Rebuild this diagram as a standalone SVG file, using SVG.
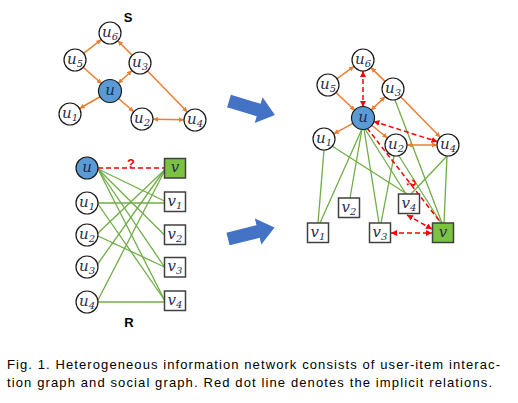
<svg xmlns="http://www.w3.org/2000/svg" width="518" height="403" viewBox="0 0 518 403">
<style>
.n{fill:#fff;stroke:#1a1a1a;stroke-width:1.2}
.nb{fill:#5b9bd5;stroke:#1a1a1a;stroke-width:1.2}
.bx{fill:#fff;stroke:#404040;stroke-width:1.5}
.bg{fill:#7cc242;stroke:#404040;stroke-width:1.5}
.lb{font-family:"DejaVu Serif","Liberation Serif",serif;font-style:italic;font-size:15px;fill:#1f2d4d;text-anchor:middle}
.sb{font-size:10px}
.o{stroke:#ed7d31;stroke-width:1.5;fill:none}
.g{stroke:#70ad47;stroke-width:1.3;fill:none}
.r{stroke:#ff0000;stroke-width:1.5;stroke-dasharray:5 3;fill:none}
.t{font-family:"Liberation Sans",Arial,sans-serif;font-weight:bold;font-size:13px;fill:#000;text-anchor:middle}
.q{font-family:"Liberation Sans",Arial,sans-serif;font-weight:bold;font-size:13px;fill:#ff0000;text-anchor:middle}
.cap{font-family:"Liberation Sans",Arial,sans-serif;font-size:13px;fill:#000}
.ba{fill:#4472c4}
</style>
<defs>
<marker id="ao" viewBox="0 0 10 10" refX="10" refY="5" markerWidth="5" markerHeight="5" orient="auto-start-reverse" markerUnits="userSpaceOnUse"><path d="M0,0 L10,5 L0,10 z" fill="#ed7d31"/></marker>
<marker id="ar" viewBox="0 0 10 10" refX="10" refY="5" markerWidth="6" markerHeight="6" orient="auto-start-reverse" markerUnits="userSpaceOnUse"><path d="M0,0 L10,5 L0,10 z" fill="#ff0000"/></marker>
</defs>

<g id="connectors">
<line class="o" x1="83.7" y1="53.3" x2="101.3" y2="39.7" marker-end="url(#ao)"/>
<line class="o" x1="132.2" y1="55.2" x2="117.8" y2="40.8" marker-end="url(#ao)"/>
<line class="o" x1="83.2" y1="67.3" x2="101.8" y2="83.7" marker-end="url(#ao)"/>
<line class="o" x1="118" y1="83.5" x2="132" y2="70.5" marker-start="url(#ao)" marker-end="url(#ao)"/>
<line class="o" x1="100.5" y1="96.5" x2="79.5" y2="108.5" marker-end="url(#ao)"/>
<line class="o" x1="118.3" y1="98.2" x2="133.7" y2="111.8" marker-end="url(#ao)"/>
<line class="o" x1="153" y1="119.2" x2="184" y2="119.8" marker-start="url(#ao)" marker-end="url(#ao)"/>
<line class="o" x1="147.6" y1="70.9" x2="187.4" y2="112.1" marker-end="url(#ao)"/>
<line class="g" x1="98" y1="169" x2="164.5" y2="201"/>
<line class="g" x1="98" y1="169" x2="164.5" y2="235"/>
<line class="g" x1="98" y1="169" x2="164.5" y2="267"/>
<line class="g" x1="98" y1="169" x2="164.5" y2="300"/>
<line class="g" x1="98" y1="203" x2="164.5" y2="203"/>
<line class="g" x1="98" y1="204" x2="164.5" y2="300"/>
<line class="g" x1="98" y1="233" x2="164.5" y2="170"/>
<line class="g" x1="98" y1="236" x2="164.5" y2="267"/>
<line class="g" x1="97" y1="265" x2="164.5" y2="170"/>
<line class="g" x1="98" y1="300" x2="164.5" y2="171"/>
<line class="g" x1="98" y1="302" x2="164.5" y2="302"/>
<line class="r" x1="98" y1="168" x2="164.5" y2="168"/>
<line class="g" x1="324" y1="150" x2="318" y2="223"/>
<line class="g" x1="332" y1="146" x2="407" y2="194"/>
<line class="g" x1="362" y1="129" x2="320" y2="223"/>
<line class="g" x1="362" y1="129" x2="350" y2="198"/>
<line class="g" x1="364" y1="129" x2="379" y2="223"/>
<line class="g" x1="365" y1="129" x2="406" y2="194"/>
<line class="g" x1="394" y1="156" x2="381" y2="223"/>
<line class="g" x1="399" y1="156" x2="441" y2="223"/>
<line class="g" x1="395" y1="100" x2="442" y2="223"/>
<line class="g" x1="447" y1="156" x2="411" y2="194"/>
<line class="g" x1="447" y1="156" x2="444" y2="223"/>
<line class="o" x1="337" y1="78.6" x2="354" y2="66.4" marker-end="url(#ao)"/>
<line class="o" x1="385.1" y1="81.4" x2="370.9" y2="67.6" marker-end="url(#ao)"/>
<line class="o" x1="336" y1="92.5" x2="355" y2="110.5" marker-end="url(#ao)"/>
<line class="o" x1="370.9" y1="110.4" x2="385.1" y2="96.6" marker-start="url(#ao)" marker-end="url(#ao)"/>
<line class="o" x1="353.3" y1="123.2" x2="333.7" y2="133.8" marker-end="url(#ao)"/>
<line class="o" x1="371.5" y1="125" x2="387.5" y2="138" marker-end="url(#ao)"/>
<line class="o" x1="407" y1="145" x2="437" y2="145" marker-start="url(#ao)" marker-end="url(#ao)"/>
<line class="o" x1="400.7" y1="96.8" x2="440.3" y2="137.2" marker-end="url(#ao)"/>
<line class="r" x1="363" y1="71" x2="363" y2="107" marker-start="url(#ar)" marker-end="url(#ar)"/>
<line class="r" x1="373.5" y1="121.3" x2="437.5" y2="141.7" marker-start="url(#ar)" marker-end="url(#ar)"/>
<line class="r" x1="367" y1="128" x2="441" y2="223"/>
<line class="r" x1="407" y1="215" x2="432" y2="229" marker-start="url(#ar)" marker-end="url(#ar)"/>
<line class="r" x1="391" y1="233" x2="432" y2="233" marker-start="url(#ar)" marker-end="url(#ar)"/>
</g>

<text class="t" x="128" y="22">S</text>
<text class="t" x="129" y="327">R</text>
<text class="q" x="131" y="168">?</text>
<text class="q" x="0" y="0" transform="translate(407,185) rotate(70)">?</text>

<g id="s_u6"><circle class="n" cx="110" cy="33" r="11"/><text class="lb" x="110" y="37">u<tspan class="sb" dy="3">6</tspan></text></g>
<g id="s_u5"><circle class="n" cx="75" cy="60" r="11"/><text class="lb" x="75" y="64">u<tspan class="sb" dy="3">5</tspan></text></g>
<g id="s_u3"><circle class="n" cx="140" cy="63" r="11"/><text class="lb" x="140" y="67">u<tspan class="sb" dy="3">3</tspan></text></g>
<g id="s_u"><circle class="nb" cx="110" cy="91" r="11.5"/><text class="lb" x="110" y="95">u</text></g>
<g id="s_u1"><circle class="n" cx="70" cy="114" r="11"/><text class="lb" x="70" y="118">u<tspan class="sb" dy="3">1</tspan></text></g>
<g id="s_u2"><circle class="n" cx="142" cy="119" r="11"/><text class="lb" x="142" y="123">u<tspan class="sb" dy="3">2</tspan></text></g>
<g id="s_u4"><circle class="n" cx="195" cy="120" r="11"/><text class="lb" x="195" y="124">u<tspan class="sb" dy="3">4</tspan></text></g>

<g id="r_u"><circle class="nb" cx="87" cy="168" r="11"/><text class="lb" x="87" y="172">u</text></g>
<g id="r_u1"><circle class="n" cx="87" cy="203" r="11"/><text class="lb" x="87" y="207">u<tspan class="sb" dy="3">1</tspan></text></g>
<g id="r_u2"><circle class="n" cx="87" cy="235" r="11"/><text class="lb" x="87" y="239">u<tspan class="sb" dy="3">2</tspan></text></g>
<g id="r_u3"><circle class="n" cx="87" cy="267" r="11"/><text class="lb" x="87" y="271">u<tspan class="sb" dy="3">3</tspan></text></g>
<g id="r_u4"><circle class="n" cx="87" cy="302" r="11"/><text class="lb" x="87" y="306">u<tspan class="sb" dy="3">4</tspan></text></g>
<g id="r_v"><rect class="bg" x="164.5" y="158.5" width="21" height="19.5"/><text class="lb" x="175" y="172">v</text></g>
<g id="r_v1"><rect class="bx" x="164.5" y="192" width="21" height="19.5"/><text class="lb" x="175" y="206">v<tspan class="sb" dy="3">1</tspan></text></g>
<g id="r_v2"><rect class="bx" x="164.5" y="225" width="21" height="19.5"/><text class="lb" x="175" y="239">v<tspan class="sb" dy="3">2</tspan></text></g>
<g id="r_v3"><rect class="bx" x="164.5" y="257.5" width="21" height="19.5"/><text class="lb" x="175" y="271">v<tspan class="sb" dy="3">3</tspan></text></g>
<g id="r_v4"><rect class="bx" x="164.5" y="291" width="21" height="19.5"/><text class="lb" x="175" y="305">v<tspan class="sb" dy="3">4</tspan></text></g>

<g id="m_u6"><circle class="n" cx="363" cy="60" r="11"/><text class="lb" x="363" y="64">u<tspan class="sb" dy="3">6</tspan></text></g>
<g id="m_u5"><circle class="n" cx="328" cy="85" r="11"/><text class="lb" x="328" y="89">u<tspan class="sb" dy="3">5</tspan></text></g>
<g id="m_u3"><circle class="n" cx="393" cy="89" r="11"/><text class="lb" x="393" y="93">u<tspan class="sb" dy="3">3</tspan></text></g>
<g id="m_u"><circle class="nb" cx="363" cy="118" r="11.5"/><text class="lb" x="363" y="122">u</text></g>
<g id="m_u1"><circle class="n" cx="324" cy="139" r="11"/><text class="lb" x="324" y="143">u<tspan class="sb" dy="3">1</tspan></text></g>
<g id="m_u2"><circle class="n" cx="396" cy="145" r="11"/><text class="lb" x="396" y="149">u<tspan class="sb" dy="3">2</tspan></text></g>
<g id="m_u4"><circle class="n" cx="448" cy="145" r="11"/><text class="lb" x="448" y="149">u<tspan class="sb" dy="3">4</tspan></text></g>
<g id="m_v2"><rect class="bx" x="338.5" y="198" width="21" height="19.5"/><text class="lb" x="349" y="212">v<tspan class="sb" dy="3">2</tspan></text></g>
<g id="m_v4"><rect class="bx" x="398.5" y="194" width="21" height="19.5"/><text class="lb" x="409" y="208">v<tspan class="sb" dy="3">4</tspan></text></g>
<g id="m_v1"><rect class="bx" x="307.5" y="223" width="21" height="19.5"/><text class="lb" x="318" y="237">v<tspan class="sb" dy="3">1</tspan></text></g>
<g id="m_v3"><rect class="bx" x="369.5" y="223" width="21" height="19.5"/><text class="lb" x="380" y="237">v<tspan class="sb" dy="3">3</tspan></text></g>
<g id="m_v"><rect class="bg" x="432.5" y="223" width="21" height="19.5"/><text class="lb" x="443" y="237">v</text></g>

<g id="arrow1" transform="translate(229,101) rotate(17)"><polygon class="ba" points="0,-6.5 31,-6.5 31,-13.5 48,0 31,13.5 31,6.5 0,6.5"/></g>
<g id="arrow2" transform="translate(228,239) rotate(-14)"><polygon class="ba" points="0,-6.5 31,-6.5 31,-13.5 48,0 31,13.5 31,6.5 0,6.5"/></g>

<text class="cap" x="7" y="369" textLength="493" lengthAdjust="spacing">Fig. 1. Heterogeneous information network consists of user-item interac-</text>
<text class="cap" x="7" y="387" textLength="485" lengthAdjust="spacing">tion graph and social graph. Red dot line denotes the implicit relations.</text>
</svg>
